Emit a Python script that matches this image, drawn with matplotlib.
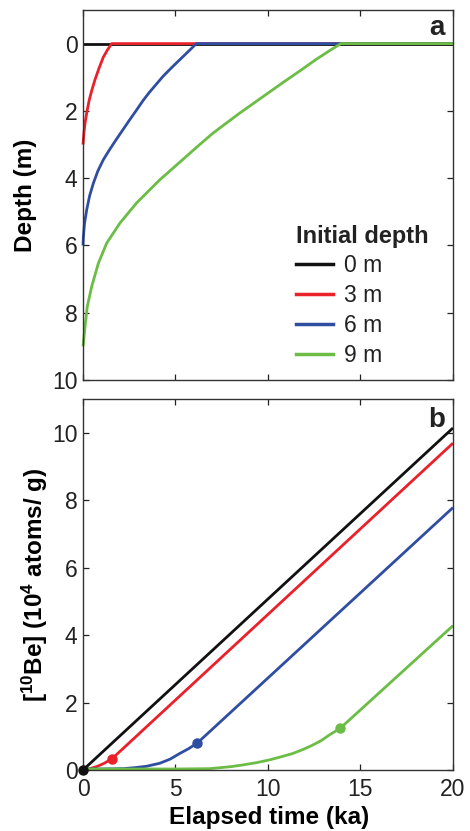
import matplotlib
matplotlib.use("Agg")
import matplotlib.pyplot as plt
from matplotlib.lines import Line2D

plt.rcParams["font.family"] = ["Liberation Sans", "DejaVu Sans"]
plt.rcParams["mathtext.fontset"] = "custom"
plt.rcParams["mathtext.rm"] = "Liberation Sans:bold"
plt.rcParams["mathtext.default"] = "rm"

# burial depth (m) vs elapsed time (ka), one run per initial depth
t_d0 = [0, 20]
d_d0 = [0, 0]
t_d3 = [0, 0.05, 0.11, 0.22, 0.34, 0.48, 0.65, 0.86, 1.10, 1.32, 1.55, 20]
d_d3 = [3.0, 2.66, 2.36, 2.0, 1.67, 1.38, 1.07, 0.74, 0.40, 0.19, 0, 0]
t_d6 = [0, 0.02, 0.08, 0.2, 0.36, 0.56, 0.8, 1.10, 1.45, 1.81, 2.17, 2.53,
        2.9, 3.25, 3.57, 3.88, 4.33, 4.78, 5.23, 5.68, 6.13, 20]
d_d6 = [6.0, 5.75, 5.35, 4.94, 4.52, 4.15, 3.79, 3.45, 3.14, 2.84, 2.55, 2.26,
        1.97, 1.69, 1.46, 1.26, 0.97, 0.72, 0.48, 0.24, 0, 0]
t_d9 = [0, 0.04, 0.11, 0.23, 0.47, 0.83, 1.28, 1.99, 2.89, 4.15, 5.59, 6.31,
        7.03, 7.56, 8.46, 9.0, 9.9, 10.8, 11.7, 12.6, 13.3, 13.94, 20]
d_d9 = [9.0, 8.8, 8.41, 7.82, 7.22, 6.53, 5.93, 5.34, 4.74, 4.05, 3.35, 3.0,
        2.66, 2.44, 2.07, 1.86, 1.51, 1.16, 0.82, 0.47, 0.22, 0, 0]

# 10Be concentration (1e4 atoms/g) vs elapsed time (ka)
t_c0 = [0, 20]
c_c0 = [0, 10.14]
t_c3 = [0, 0.3, 0.74, 1.15, 1.58, 20]
c_c3 = [0, 0.03, 0.1, 0.2, 0.34, 9.69]
t_c6 = [0, 1.0, 2.17, 2.8, 3.43, 4.15, 4.7, 5.23, 5.7, 6.16, 20]
c_c6 = [0.03, 0.03, 0.04, 0.07, 0.11, 0.2, 0.32, 0.49, 0.63, 0.79, 7.78]
t_c9 = [0, 5.05, 6.85, 8.0, 8.64, 9.4, 10.08, 10.7, 11.34, 11.9, 12.42,
        12.9, 13.32, 13.91, 20]
c_c9 = [0.03, 0.03, 0.04, 0.1, 0.15, 0.22, 0.30, 0.39, 0.49, 0.61, 0.74,
        0.88, 1.04, 1.24, 4.28]

# time each sample reaches the surface, and its concentration then
t_exp = [0, 1.58, 6.16, 13.91]
c_exp = [0, 0.34, 0.79, 1.24]

labels = ["0 m", "3 m", "6 m", "9 m"]
colors = ["#111111", "#e8212b", "#2f4ea2", "#6bbd45"]

fig = plt.figure(figsize=(4.7, 8.31), dpi=100)
ax1 = fig.add_axes([0.1766, 0.5427, 0.7872, 0.4453])
ax2 = fig.add_axes([0.1766, 0.0734, 0.7872, 0.4465])

lw = 2.0
for t, d, c in zip([t_d0, t_d3, t_d6, t_d9], [d_d0, d_d3, d_d6, d_d9], colors):
    ax1.plot(t, d, color=c, lw=lw, clip_on=False, solid_capstyle="butt",
             solid_joinstyle="round")

for t, v, c in zip([t_c0, t_c3, t_c6, t_c9], [c_c0, c_c3, c_c6, c_c9], colors):
    ax2.plot(t, v, color=c, lw=lw, clip_on=False, solid_capstyle="butt",
             solid_joinstyle="round")
for x, y, c in zip(t_exp, c_exp, colors):
    ax2.plot(x, y, "o", color=c, ms=6.5, clip_on=False, zorder=5)

ax1.set_xlim(0, 20)
ax1.set_ylim(10, -1)
ax1.set_yticks([0, 2, 4, 6, 8, 10])
ax1.set_xticks([0, 5, 10, 15, 20])
ax1.set_xticklabels([])
ax1.set_ylabel("Depth (m)", fontsize=17.5, fontweight="bold")
ax1.yaxis.set_label_coords(-0.124, 0.5)

ax2.set_xlim(0, 20)
ax2.set_ylim(0, 11)
ax2.set_yticks([0, 2, 4, 6, 8, 10])
ax2.set_xticks([0, 5, 10, 15, 20])
ax2.set_xlabel("Elapsed time (ka)", fontsize=17.5, fontweight="bold")
ax2.set_ylabel(r"[$^{10}$Be] (10$^{4}$ atoms/ g)", fontsize=17.5, fontweight="bold")
ax2.xaxis.set_label_coords(0.502, -0.097)
ax2.yaxis.set_label_coords(-0.089, 0.5)

for ax in (ax1, ax2):
    ax.tick_params(direction="in", length=4, width=0.9, top=True, right=True,
                   labelsize=16.5, colors="#222222", pad=4)
    ax.tick_params(axis="x", pad=6)
    for s in ax.spines.values():
        s.set_color("#333333")
        s.set_linewidth(1.0)

ax1.text(0.978, 0.932, "a", transform=ax1.transAxes, ha="right", va="baseline",
         fontsize=20, fontweight="bold", color="#222222")
ax2.text(0.978, 0.925, "b", transform=ax2.transAxes, ha="right", va="baseline",
         fontsize=20, fontweight="bold", color="#222222")

handles = [Line2D([], [], color=c, lw=lw + 0.5) for c in colors]
leg = ax1.legend(handles, labels, title="Initial depth", loc="upper left",
                 bbox_to_anchor=(0.576, 0.42), frameon=False, fontsize=16.5,
                 title_fontproperties={"weight": "bold", "size": 17},
                 handlelength=1.6, handletextpad=0.5, labelspacing=0.3,
                 borderpad=0, borderaxespad=0, alignment="left")
for txt in leg.get_texts():
    txt.set_color("#222222")
leg.get_title().set_color("#222222")

fig.savefig("out.png", dpi=100)
